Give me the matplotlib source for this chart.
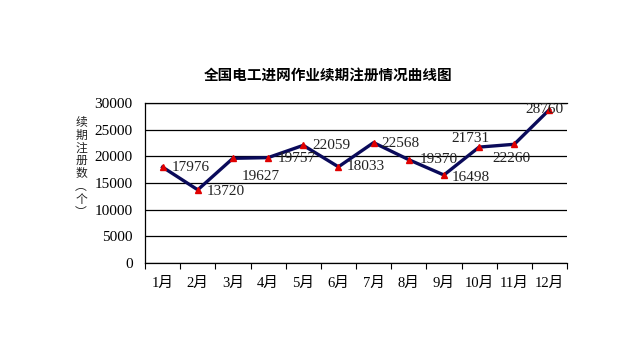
import matplotlib
matplotlib.use("Agg")
import matplotlib.pyplot as plt
import numpy as np

months = ["1月", "2月", "3月", "4月", "5月", "6月", "7月", "8月", "9月", "10月", "11月", "12月"]
values = [17976, 13720, 19627, 19757, 22059, 18033, 22568, 19370, 16498, 21731, 22260, 28760]
yticks = [0, 5000, 10000, 15000, 20000, 25000, 30000]
# label offsets in pixels (dx, dy) and alignment
offsets = [(9, 0, 'left'), (9, -2, 'left'), (9, -18, 'left'), (10, -1, 'left'),
           (9, 0, 'left'), (8, 0, 'left'), (8, -1, 'left'), (11, 0, 'left'),
           (8, -2, 'left'), (-9, 9, 'center'), (-3, -14, 'center'), (-5, 0, 'center')]

CJK = ['Noto Sans CJK SC', 'DejaVu Sans']
SERIF = ['Liberation Serif', 'Noto Sans CJK SC']

fig = plt.figure(figsize=(6.4, 3.56), dpi=100)
ax = fig.add_axes([145/640, 1-263/356, 422/640, 160/356])

x = np.arange(len(months)) + 0.5
ax.plot(x, values, color='#0a0a5a', lw=2.4, zorder=3)
ax.plot(x, values, ls='none', marker='^', ms=5, color='#e00000', zorder=4)

ax.set_xlim(0, 12)
ax.set_ylim(0, 30000)
ax.set_yticks(yticks)
ax.set_yticklabels([str(v) for v in yticks], fontfamily=SERIF, fontsize=11)
ax.yaxis.grid(True, color='black', lw=0.9)
ax.set_axisbelow(True)
ax.tick_params(axis='y', length=0, pad=9)

ax.set_xticks(np.arange(0, 13))
ax.set_xticklabels([])
ax.set_xticks(x, minor=True)
ax.set_xticklabels(months, minor=True, fontfamily=SERIF, fontsize=10.5)
ax.tick_params(axis='x', which='major', length=4, direction='out', color='black')
ax.tick_params(axis='x', which='minor', length=0, pad=10)

for s in ['right']:
    ax.spines[s].set_visible(False)
for s in ['left', 'bottom', 'top']:
    ax.spines[s].set_color('black')
    ax.spines[s].set_linewidth(0.9)

for xi, v, (dx, dy, ha) in zip(x, values, offsets):
    ax.annotate(str(v), (xi, v), xytext=(dx*0.72, dy*0.72), textcoords='offset points',
                ha=ha, va='center', fontsize=11, fontfamily=SERIF, color='#222222', zorder=5)

fig.text(328/640, 1-75/356, "全国电工进网作业续期注册情况曲线图", ha='center', va='center',
         fontsize=10.5, fontweight='bold', fontfamily=CJK)

ylabel_chars = "续期注册数︵个︶"
for i, ch in enumerate(ylabel_chars):
    fig.text(81/640, 1-(122+i*12.9)/356, ch, ha='center', va='center', fontsize=8.5,
             fontfamily=CJK, color='#222222')

fig.savefig("out.png", dpi=100)
